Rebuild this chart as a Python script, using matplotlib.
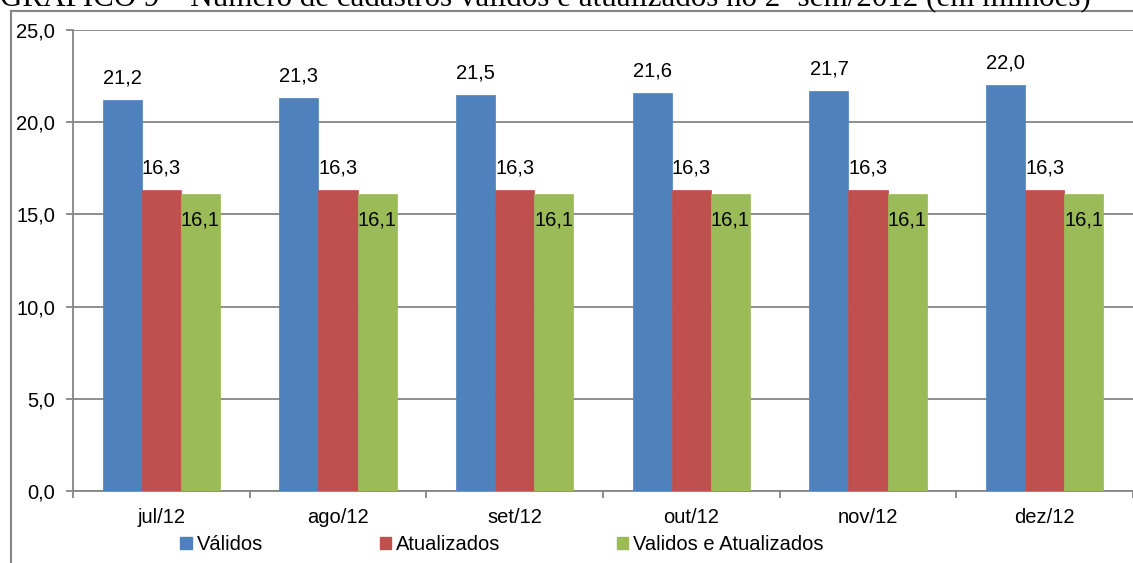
import numpy as np
import matplotlib
matplotlib.use("Agg")
import matplotlib.pyplot as plt
from matplotlib.lines import Line2D
from matplotlib.patches import Patch

# dados (em milhões)
meses = ["jul/12", "ago/12", "set/12", "out/12", "nov/12", "dez/12"]
validos = [21.2, 21.3, 21.5, 21.6, 21.7, 22.0]
atualizados = [16.3, 16.3, 16.3, 16.3, 16.3, 16.3]
val_atual = [16.1, 16.1, 16.1, 16.1, 16.1, 16.1]

series = ["Válidos", "Atualizados", "Validos e Atualizados"]
cores = ["#4F81BD", "#C0504D", "#9BBB59"]

plt.rcParams["font.family"] = ["Liberation Sans", "DejaVu Sans"]
FS = 14.5

W, H = 1133, 563
fig = plt.figure(figsize=(W / 100, H / 100), dpi=100)
ax = fig.add_axes([73 / W, 72 / H, (W - 73) / W, 461 / H])

x = np.arange(len(meses))
larg = 0.221
dados = [validos, atualizados, val_atual]
offs = [-larg, 0, larg]
# deslocamento vertical dos rótulos (pontos)
rot_dy = [15.8, 15.8, -18.7]

for vals, off, cor, nome, dy in zip(dados, offs, cores, series, rot_dy):
    ax.bar(x + off, vals, larg, color=cor, label=nome, zorder=3,
           edgecolor=cor, linewidth=0.5)
    for xi, v in zip(x, vals):
        ax.annotate(f"{v:.1f}".replace(".", ","), (xi + off, v),
                    xytext=(0, dy), textcoords="offset points",
                    ha="center", va="center", fontsize=FS, zorder=4)

ax.set_xlim(-0.5, 5.5)
ax.set_ylim(0, 25)
ax.set_yticks(np.arange(0, 25.1, 5))
ax.set_yticklabels([f"{v:.1f}".replace(".", ",") for v in np.arange(0, 25.1, 5)])
ax.yaxis.grid(True, color="#868686", linewidth=1.3, zorder=0)

ax.set_xticks(x)
ax.set_xticklabels(meses)
ax.set_xticks(np.arange(-0.5, 5.6, 1), minor=True)
ax.tick_params(axis="x", which="major", length=0, pad=12, labelsize=FS)
ax.tick_params(axis="x", which="minor", length=5, direction="out",
               color="#868686", width=1.3)
ax.tick_params(axis="y", length=5, direction="out", color="#868686",
               width=1.3, pad=8, labelsize=FS)

for s in ["top", "right"]:
    ax.spines[s].set_visible(False)
for s in ["left", "bottom"]:
    ax.spines[s].set_color("#868686")
    ax.spines[s].set_linewidth(1.3)

# legenda abaixo do gráfico
handles = [Patch(facecolor=c, edgecolor=c) for c in cores]
fig.legend(handles, series, loc="center", bbox_to_anchor=(502 / W, 1 - 545 / H),
           ncol=3, frameon=False, fontsize=FS, handlelength=0.55,
           handleheight=0.55, handletextpad=0.25, columnspacing=5.8)

# moldura do gráfico
fig.add_artist(Line2D([11 / W, 1], [1 - 11 / H, 1 - 11 / H],
                      transform=fig.transFigure, color="#868686", linewidth=1.5))
fig.add_artist(Line2D([11 / W, 11 / W], [0, 1 - 11 / H],
                      transform=fig.transFigure, color="#868686", linewidth=1.5))

# título (cortado na borda superior)
fig.text(0, 1 - 6 / H, "GRÁFICO 9 – Número de cadastros válidos e atualizados no 2º sem/2012 (em milhões)",
         fontsize=22.3, family="Liberation Serif", ha="left", va="baseline")

fig.savefig("out.png", dpi=100)
